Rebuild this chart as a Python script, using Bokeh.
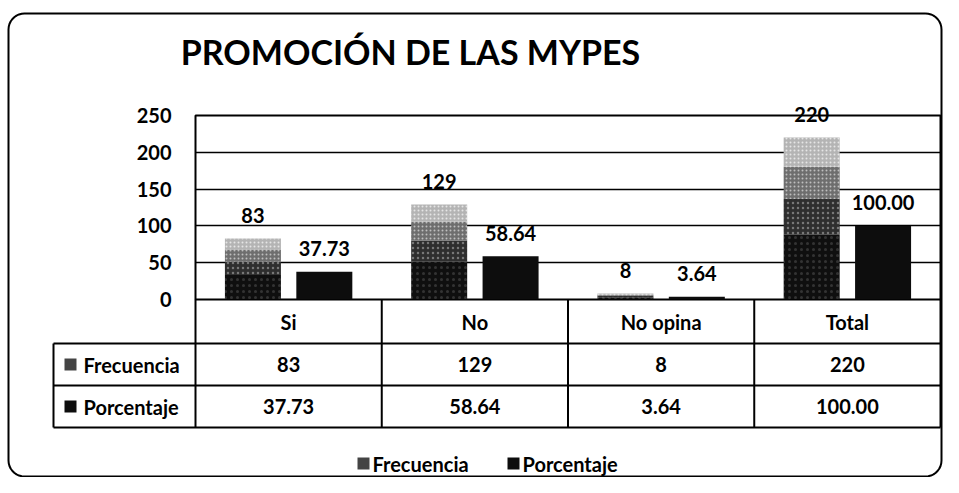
import numpy as np
from bokeh.plotting import figure
from bokeh.models import Range1d, FixedTicker
from bokeh.core.properties import value
from bokeh.embed import file_html
from bokeh.resources import INLINE

# ---------------- data ----------------
categories = ["Si", "No", "No opina", "Total"]
frecuencia = [83, 129, 8, 220]
porcentaje = [37.73, 58.64, 3.64, 100.00]
frecuencia_txt = ["83", "129", "8", "220"]
porcentaje_txt = ["37.73", "58.64", "3.64", "100.00"]
series = ["Frecuencia", "Porcentaje"]
y_ticks = [0, 50, 100, 150, 200, 250]
title_text = "PROMOCIÓN DE LAS MYPES"

# ---------------- layout (canvas pixels) ----------------
W, H = 943, 477
F_L, F_R, F_T, F_B = 195, 940, 115, 299
Y_MAX = y_ticks[-1]
x0, x1 = -0.5, len(categories) - 0.5
px_x = (F_R - F_L) / (x1 - x0)
px_y = (F_B - F_T) / Y_MAX


def X(sx):
    return x0 + (sx - F_L) / px_x


def Y(sy):
    return (F_B - sy) / px_y


FONT = value("Lato")
C_PORC = "#0d0d0d"

p = figure(width=W, height=H, output_backend="svg", toolbar_location=None,
           x_range=Range1d(x0, x1), y_range=Range1d(0, Y_MAX),
           min_border_left=F_L, min_border_right=W - F_R,
           min_border_top=F_T, min_border_bottom=H - F_B)
p.background_fill_color = "white"
p.border_fill_color = "white"
p.outline_line_color = "black"
p.outline_line_width = 2

p.xaxis.visible = False
p.xgrid.visible = False
p.yaxis.ticker = FixedTicker(ticks=y_ticks)
p.yaxis.axis_line_color = None
p.yaxis.major_tick_line_color = None
p.yaxis.minor_tick_line_color = None
p.yaxis.major_label_standoff = 18
p.yaxis.major_label_text_font = "Lato"
p.yaxis.major_label_text_font_style = "bold"
p.yaxis.major_label_text_font_size = "20px"
p.yaxis.major_label_text_color = "black"
p.ygrid.ticker = FixedTicker(ticks=y_ticks)
p.ygrid.grid_line_color = "black"
p.ygrid.grid_line_width = 1.5

idx = list(range(len(categories)))
bw = 56 / px_x
dx = 35.7 / px_x
xf = [i - dx for i in idx]
xp = [i + dx for i in idx]

# Frecuencia: speckled "gradient" - solid dark at the bottom, fading upwards
bands = [  # (from fraction, to fraction, fill, dot alpha, dot scale)
    (0.00, 0.40, "#0f0f0f", 0.15, 6),
    (0.40, 0.62, "#2e2e2e", 0.35, 5),
    (0.62, 0.82, "#6e6e6e", 0.55, 4),
    (0.82, 1.00, "#b4b4b4", 0.65, 4),
]
for f0, f1, col, ha, hs in bands:
    p.vbar(x=xf, bottom=[v * f0 for v in frecuencia], top=[v * f1 for v in frecuencia],
           width=bw, fill_color=col, line_color=None, hatch_pattern="dot",
           hatch_color="white", hatch_alpha=ha, hatch_scale=hs)
p.vbar(x=xp, top=porcentaje, width=bw, fill_color=C_PORC, line_color=None)

lab_off = 23 / px_y
txt = dict(text_font=FONT, text_font_style="bold", text_font_size="20px",
           text_color="black", text_align="center", text_baseline="middle",
           level="overlay")
p.text(x=xf, y=[v + lab_off for v in frecuencia], text=frecuencia_txt, **txt)
p.text(x=xp, y=[v + lab_off for v in porcentaje], text=porcentaje_txt, **txt)

# title
p.text(x=[X(410)], y=[Y(51)], text=[title_text], text_font=FONT,
       text_font_style="bold", text_font_size="34px", text_color="black",
       text_align="center", text_baseline="middle", level="overlay")

# ---------------- data table ----------------
ROW_HDR_L = 53
rows_y = [299, 343, 385, 427]
tline = dict(line_color="black", line_width=2, level="overlay")
p.segment(x0=[X(ROW_HDR_L)] * 3, x1=[x1] * 3, y0=[Y(s) for s in rows_y[1:]],
          y1=[Y(s) for s in rows_y[1:]], **tline)
vx = [x0 + k for k in range(len(categories) + 1)]
p.segment(x0=vx, x1=vx, y0=[Y(rows_y[0])] * len(vx), y1=[Y(rows_y[-1])] * len(vx), **tline)
p.segment(x0=[X(ROW_HDR_L)], x1=[X(ROW_HDR_L)], y0=[Y(rows_y[1])], y1=[Y(rows_y[-1])], **tline)

mid = [(rows_y[k] + rows_y[k + 1]) / 2 for k in range(3)]
p.text(x=idx, y=[Y(mid[0])] * len(idx), text=categories, **txt)
p.text(x=idx, y=[Y(mid[1])] * len(idx), text=frecuencia_txt, **txt)
p.text(x=idx, y=[Y(mid[2])] * len(idx), text=porcentaje_txt, **txt)

ltxt = dict(txt)
ltxt["text_align"] = "left"
p.text(x=[X(83)] * 2, y=[Y(mid[1]), Y(mid[2])], text=series, **ltxt)


def key(cx, sy, color):
    # small square legend key, drawn as a thick butt-capped segment
    p.segment(x0=[X(cx - 6)], x1=[X(cx + 6)], y0=[Y(sy)], y1=[Y(sy)],
              line_color=color, line_width=12, line_cap="butt", level="overlay")


key(70, mid[1], "#444444")
key(70, mid[2], C_PORC)

# ---------------- bottom legend ----------------
LEG_Y = 463
key(363, LEG_Y, "#444444")
key(513, LEG_Y, C_PORC)
p.text(x=[X(372), X(522)], y=[Y(LEG_Y)] * 2, text=series, **ltxt)

# ---------------- outer rounded frame ----------------
BL, BR, BT, BB, R = 8, 941, 13, 476, 16
pts = []
for (cx, cy, a0) in [(BR - R, BT + R, -90), (BR - R, BB - R, 0),
                     (BL + R, BB - R, 90), (BL + R, BT + R, 180)]:
    for a in np.linspace(a0, a0 + 90, 10):
        t = np.radians(a)
        pts.append((cx + R * np.cos(t), cy + R * np.sin(t)))
pts.append(pts[0])
p.line(x=[X(a) for a, b in pts], y=[Y(b) for a, b in pts], line_color="black",
       line_width=2, level="overlay")

open("out.html", "w").write(file_html(p, INLINE))
